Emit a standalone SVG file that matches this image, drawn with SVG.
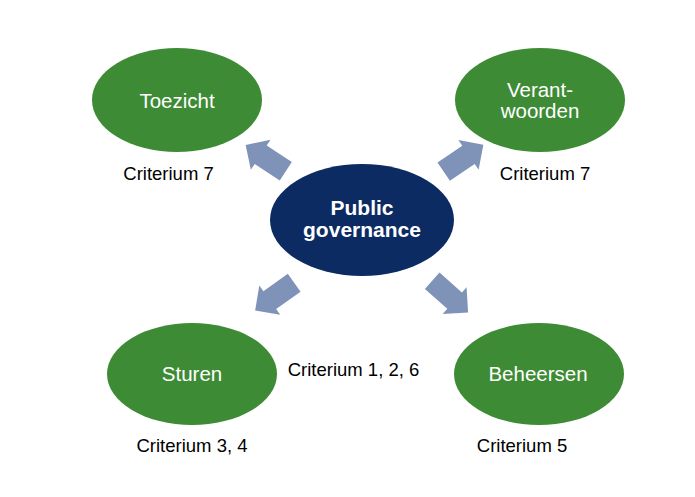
<svg xmlns="http://www.w3.org/2000/svg" width="695" height="497" viewBox="0 0 695 497">
  <style>
    .green { fill: #3E8B35; }
    .navy { fill: #0C2B63; }
    .lbl { font-family: "Liberation Sans", Arial, sans-serif; font-size: 20.5px; fill: #ffffff; text-anchor: middle; }
    .bold { font-weight: bold; font-size: 21px; }
    .crit { font-family: "Liberation Sans", Arial, sans-serif; font-size: 18.5px; fill: #000000; text-anchor: middle; }
    .arrow { fill: #7F93B8; }
  </style>
  <defs>
    <polygon id="blockArrow" points="0,-11 30,-11 30,-18 48,0 30,18 30,11 0,11"/>
  </defs>
  <rect width="695" height="497" fill="#ffffff"/>

  <g id="connectors">
    <use href="#blockArrow" class="arrow" transform="translate(285.8,171.2) rotate(213.2)"/>
    <use href="#blockArrow" class="arrow" transform="translate(443.7,171.7) rotate(-34.3)"/>
    <use href="#blockArrow" class="arrow" transform="translate(294.2,282.7) rotate(144.5)"/>
    <use href="#blockArrow" class="arrow" transform="translate(432.2,280.7) rotate(41.6)"/>
  </g>

  <g id="public-governance">
    <ellipse class="navy" cx="362" cy="220" rx="92" ry="56"/>
    <text class="lbl bold" x="362" y="215">Public</text>
    <text class="lbl bold" x="362" y="237">governance</text>
  </g>

  <g id="toezicht">
    <ellipse class="green" cx="177" cy="100" rx="85" ry="52"/>
    <text class="lbl" x="177" y="108">Toezicht</text>
  </g>

  <g id="verantwoorden">
    <ellipse class="green" cx="540" cy="100" rx="85" ry="52"/>
    <text class="lbl" x="540" y="97">Verant-</text>
    <text class="lbl" x="540" y="118">woorden</text>
  </g>

  <g id="sturen">
    <ellipse class="green" cx="192" cy="374" rx="85" ry="51"/>
    <text class="lbl" x="192" y="381">Sturen</text>
  </g>

  <g id="beheersen">
    <ellipse class="green" cx="539" cy="374" rx="85" ry="51"/>
    <text class="lbl" x="538" y="381">Beheersen</text>
  </g>

  <g id="criteria">
    <text class="crit" x="168.5" y="180">Criterium 7</text>
    <text class="crit" x="545" y="180">Criterium 7</text>
    <text class="crit" x="353.5" y="376">Criterium 1, 2, 6</text>
    <text class="crit" x="192" y="452">Criterium 3, 4</text>
    <text class="crit" x="522" y="452">Criterium 5</text>
  </g>
</svg>
